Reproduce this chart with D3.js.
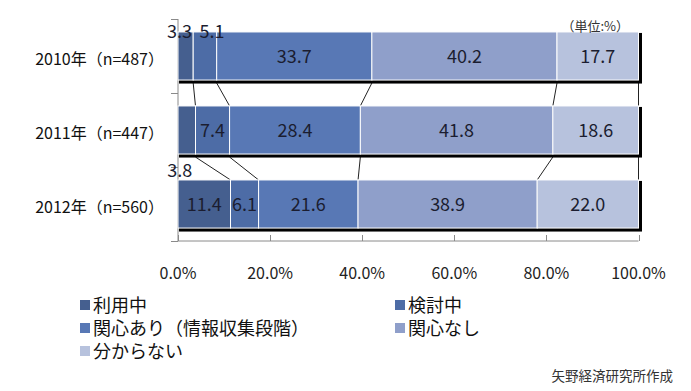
<!DOCTYPE html>
<html>
<head>
<meta charset="utf-8">
<script src="https://cdn.jsdelivr.net/npm/d3@7"></script>
<style>
  body { margin: 0; background: #fff; }
  text { font-family: "Noto Sans CJK JP", "Noto Sans", sans-serif; }
</style>
</head>
<body>
<svg id="chart" width="691" height="391"></svg>
<script>
(function(){

    // data
    var years = ["2010年（n=487）", "2011年（n=447）", "2012年（n=560）"];
    var seriesNames = ["利用中", "検討中", "関心あり（情報収集段階）", "関心なし", "分からない"];
    var riyou   = [3.3, 3.8, 11.4];
    var kentou  = [5.1, 7.4, 6.1];
    var kanshin = [33.7, 28.4, 21.6];
    var nashi   = [40.2, 41.8, 38.9];
    var wakaran = [17.7, 18.6, 22.0];
    var xTicks = [0, 20, 40, 60, 80, 100];

    var values = [riyou, kentou, kanshin, nashi, wakaran];
    var colors = ["#455f8f", "#4d6ca6", "#5878b5", "#8f9fca", "#b7c2dd"];

    var svg = d3.select("#chart");
    svg.append("rect").attr("width", 691).attr("height", 391).attr("fill", "#fff");

    var margin = { top: 19, left: 178, right: 52, bottom: 150 },
        width = 691 - margin.left - margin.right,
        height = 391 - margin.top - margin.bottom;

    var x = d3.scaleLinear().domain([0, 100]).range([margin.left, margin.left + width - 0.5]);
    var y = d3.scaleBand().domain(years).range([margin.top, margin.top + height])
        .paddingInner(0.35).paddingOuter(0.175);

    // stacked rows
    var rows = years.map(function (yr, i) {
        var acc = 0;
        return {
            year: yr,
            segs: values.map(function (arr, s) {
                var d = { s: s, v: arr[i], x0: acc, x1: acc + arr[i] };
                acc += arr[i];
                return d;
            })
        };
    });

    // axes
    svg.append("line")
        .attr("x1", x(0)).attr("x2", x(0))
        .attr("y1", margin.top).attr("y2", margin.top + height)
        .attr("stroke", "#8a8a8a");
    svg.append("line")
        .attr("x1", x(0)).attr("x2", x(100))
        .attr("y1", margin.top + height).attr("y2", margin.top + height)
        .attr("stroke", "#8a8a8a");

    var bounds = [margin.top].concat(years.map(function (d) { return y(d) + y.bandwidth() + y.step() * y.paddingInner() / 2; }));
    svg.selectAll(".ytick").data(bounds).enter().append("line")
        .attr("x1", x(0) - 7).attr("x2", x(0))
        .attr("y1", function (d) { return Math.round(d) + 0.5; })
        .attr("y2", function (d) { return Math.round(d) + 0.5; })
        .attr("stroke", "#8a8a8a");

    svg.selectAll(".xtick").data(xTicks).enter().append("line")
        .attr("x1", function (d) { return Math.round(x(d)) + 0.5; })
        .attr("x2", function (d) { return Math.round(x(d)) + 0.5; })
        .attr("y1", margin.top + height - 6).attr("y2", margin.top + height)
        .attr("stroke", "#8a8a8a");

    svg.selectAll(".xlab").data(xTicks).enter().append("text")
        .attr("x", function (d) { return x(d); })
        .attr("y", 279)
        .attr("text-anchor", "middle")
        .attr("font-size", 16)
        .attr("fill", "#222")
        .text(function (d) { return d.toFixed(1) + "%"; });

    svg.selectAll(".ylab").data(years).enter().append("text")
        .attr("x", 164)
        .attr("y", function (d) { return y(d) + y.bandwidth() / 2 + 9; })
        .attr("text-anchor", "end")
        .attr("font-size", 16)
        .attr("fill", "#111")
        .text(function (d) { return d; });

    // connector lines between bars
    for (var i = 0; i < rows.length - 1; i++) {
        var a = rows[i], b = rows[i + 1];
        a.segs.forEach(function (sa, k) {
            var sb = b.segs[k];
            svg.append("line")
                .attr("x1", x(sa.x1)).attr("y1", y(a.year) + y.bandwidth() + 3)
                .attr("x2", x(sb.x1)).attr("y2", y(b.year))
                .attr("stroke", "#222").attr("stroke-width", 1);
        });
    }

    var row = svg.selectAll(".row").data(rows).enter().append("g").attr("class", "row");

    // shadow
    row.append("rect")
        .attr("x", x(0) + 1)
        .attr("y", function (d) { return y(d.year) + 1; })
        .attr("width", x(100) - x(0) + 2.5)
        .attr("height", y.bandwidth() + 2.5)
        .attr("fill", "#000");

    row.selectAll(".seg").data(function (d) { return d.segs.map(function (s) { s.year = d.year; return s; }); })
        .enter().append("rect")
        .attr("x", function (d) { return x(d.x0); })
        .attr("y", function (d) { return y(d.year); })
        .attr("width", function (d) { return x(d.x1) - x(d.x0); })
        .attr("height", y.bandwidth())
        .attr("fill", function (d) { return colors[d.s]; })
        .attr("stroke", "#fff").attr("stroke-width", 1);

    // value labels: small segments placed outside the bar
    var outside = {
        "0-0": { dx: -6, dy: -25 },
        "0-1": { dx: 7, dy: -25 },
        "1-0": { dx: -7, dy: 40 }
    };
    rows.forEach(function (r, ri) {
        r.segs.forEach(function (s) {
            var o = outside[ri + "-" + s.s];
            var cx = (x(s.x0) + x(s.x1)) / 2;
            var cy = y(r.year) + y.bandwidth() / 2;
            if (o) { cx += o.dx; cy += o.dy; }
            svg.append("text")
                .attr("x", cx)
                .attr("y", cy + 7)
                .attr("text-anchor", "middle")
                .attr("font-size", 18)
                .attr("fill", "#1b1d30")
                .text(s.v.toFixed(1));
        });
    });

    svg.append("text")
        .attr("x", 629).attr("y", 31)
        .attr("text-anchor", "end")
        .attr("font-size", 13)
        .attr("fill", "#333")
        .text("（単位:%）");

    // legend
    var legend = svg.selectAll(".legend").data(seriesNames).enter().append("g")
        .attr("class", "legend")
        .attr("transform", function (d, i) {
            return "translate(" + (i % 2 === 0 ? 80 : 395) + "," + (305 + Math.floor(i / 2) * 23) + ")";
        });
    legend.append("rect")
        .attr("x", 0).attr("y", -5)
        .attr("width", 10).attr("height", 10)
        .attr("fill", function (d, i) { return colors[i]; });
    legend.append("text")
        .attr("x", 13).attr("y", 7)
        .attr("font-size", 18)
        .attr("fill", "#111")
        .text(function (d) { return d; });

    svg.append("text")
        .attr("x", 673).attr("y", 381)
        .attr("text-anchor", "end")
        .attr("font-size", 13.5)
        .attr("fill", "#333")
        .text("矢野経済研究所作成");

})();
</script>
</body>
</html>
